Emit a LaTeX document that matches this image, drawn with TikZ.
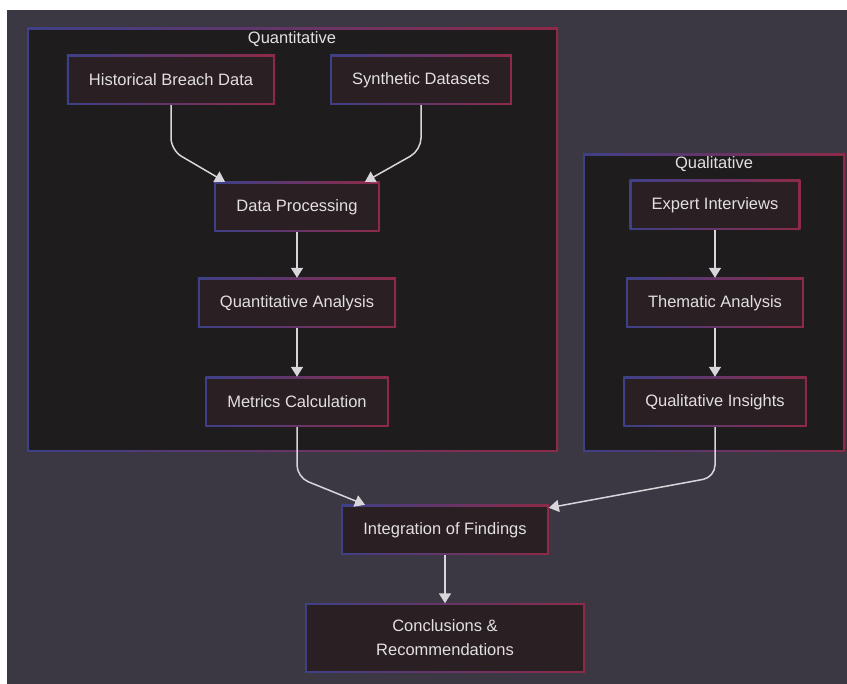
\documentclass[tikz,border=0pt]{standalone}
\usepackage{fontspec}
\setmainfont{Liberation Sans}
\usetikzlibrary{arrows.meta,positioning,calc}

\definecolor{canvasbg}{HTML}{3B3844}
\definecolor{groupbg}{HTML}{1F1C1E}
\definecolor{boxbg}{HTML}{2A1F23}
\definecolor{edgeblue}{HTML}{3E4088}
\definecolor{edgered}{HTML}{8E2A48}
\definecolor{inktext}{HTML}{E2E0E2}
\definecolor{flowline}{HTML}{D8D6DA}

\begin{document}
\begin{tikzpicture}[x=1pt, y=-1pt, >={Triangle[width=12pt,length=10pt]}]
        \tikzstyle{framed} = [left color=edgeblue, right color=edgered,
            path picture={\fill[#1] ([shift={(2pt,-2pt)}]path picture bounding box.north west)
                rectangle ([shift={(-2pt,2pt)}]path picture bounding box.south east);}]
        \tikzstyle{block} = [framed=boxbg, text=inktext, minimum height=50pt, inner xsep=22pt,
            font=\fontsize{16.5}{24}\selectfont, align=center]
        \tikzstyle{grouplabel} = [text=inktext, font=\fontsize{16.5}{20}\selectfont]
        \tikzstyle{flow} = [draw=flowline, line width=1.5pt, ->, rounded corners=12pt]

        \useasboundingbox (0,0) rectangle (847,684);
        \fill[canvasbg] (7,10) rectangle (847,684);

        % groups
        \path[framed=groupbg] (27,28) rectangle (558,452);
        \path[framed=groupbg] (583,154) rectangle (845,452);
        \node [grouplabel] (quantlbl) at (292,39) {Quantitative};
        \node [grouplabel] (quallbl) at (714,164) {Qualitative};

        % quantitative branch
        \node [block] (hist) at (171,80) {Historical Breach Data};
        \node [block, right of=hist, node distance=250pt] (synth) {Synthetic Datasets};
        \node [block] (proc) at (297,207) {Data Processing};
        \node [block, below of=proc, node distance=96pt] (quant) {Quantitative Analysis};
        \node [block, below of=quant, node distance=99pt] (metrics) {Metrics Calculation};

        % qualitative branch
        \node [block] (expert) at (715,205) {Expert Interviews};
        \node [block, below of=expert, node distance=98pt] (thematic) {Thematic Analysis};
        \node [block, below of=thematic, node distance=99pt] (insights) {Qualitative Insights};

        % merge
        \node [block] (integ) at (445,530) {Integration of Findings};
        \node [block, below of=integ, node distance=108pt, minimum width=280pt, minimum height=69pt] (concl) {Conclusions \&\\Recommendations};

        \draw [flow] (hist.south) -- ++(0,45) -- ([xshift=-72pt]proc.north);
        \draw [flow] (synth.south) -- ++(0,45) -- ([xshift=68pt]proc.north);
        \draw [flow] (proc) -- (quant);
        \draw [flow] (quant) -- (metrics);
        \draw [flow] (expert) -- (thematic);
        \draw [flow] (thematic) -- (insights);
        \draw [flow] (metrics.south) -- ++(0,50) -- ([xshift=-80pt]integ.north);
        \draw [flow] (insights.south) -- ++(0,50) -- ([yshift=-3pt]integ.north east);
        \draw [flow] (integ) -- (concl);
\end{tikzpicture}
\end{document}
